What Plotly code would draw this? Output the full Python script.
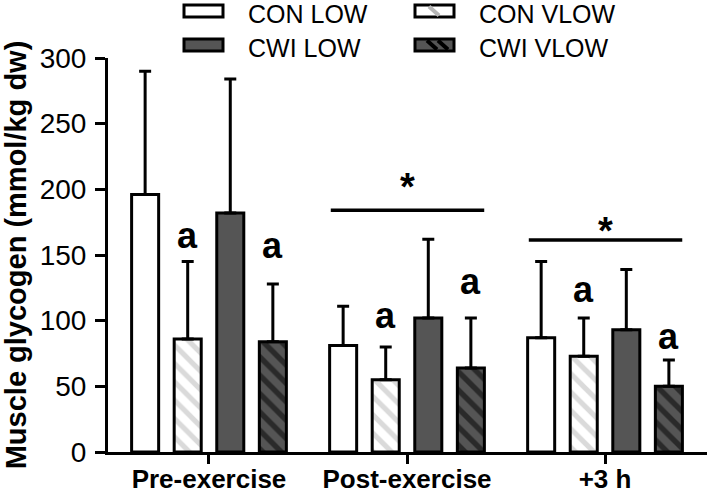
import plotly.graph_objects as go

# ---------------- data ----------------
categories = ["Pre-exercise", "Post-exercise", "+3 h"]
series_names = ["CON LOW", "CON VLOW", "CWI LOW", "CWI VLOW"]

con_low = [196, 81, 87]
con_low_sd = [94, 30, 58]
con_vlow = [86, 55, 73]
con_vlow_sd = [59, 25, 29]
cwi_low = [182, 102, 93]
cwi_low_sd = [102, 60, 46]
cwi_vlow = [84, 64, 50]
cwi_vlow_sd = [44, 38, 20]

# "a" markers: (category index, series index, y of label)
a_marks = [(0, 1, 165), (0, 3, 157), (1, 1, 104), (1, 3, 130), (2, 1, 124), (2, 3, 88)]
# significance bars: (category index, line y, star y)
sig_bars = [(1, 184, 202), (2, 161.5, 168)]

y_ticks = [0, 50, 100, 150, 200, 250, 300]

# ---------------- style ----------------
FONT = "Liberation Sans, Arial, sans-serif"
BARGAP = 0.14
BARGROUPGAP = 0.365
DARK = "#555555"
LIGHT = "#b5b5b5"

styles = [
    dict(color="white", pattern=None),
    dict(color="white", pattern=dict(shape="\\", fgcolor=LIGHT, bgcolor="white", size=13, solidity=0.4)),
    dict(color=DARK, pattern=None),
    dict(color=DARK, pattern=dict(shape="\\", fgcolor="black", bgcolor=DARK, size=13, solidity=0.42)),
]

values = [con_low, con_vlow, cwi_low, cwi_vlow]
errors = [con_low_sd, con_vlow_sd, cwi_low_sd, cwi_vlow_sd]

fig = go.Figure()
for name, v, e, st in zip(series_names, values, errors, styles):
    marker = dict(color=st["color"], line=dict(color="black", width=3))
    if st["pattern"] is not None:
        marker["pattern"] = st["pattern"]
    fig.add_trace(go.Bar(
        name=name, x=categories, y=v, marker=marker, showlegend=False,
        error_y=dict(type="data", symmetric=False, array=e, arrayminus=[0] * len(e),
                     color="black", thickness=3, width=6),
    ))

slot = (1 - BARGAP) / len(series_names)
def bar_x(ci, si):
    return ci + (si - (len(series_names) - 1) / 2) * slot

annotations = []
shapes = []
for ci, si, yy in a_marks:
    annotations.append(dict(x=bar_x(ci, si), y=yy, xref="x", yref="y", text="<b>a</b>",
                            showarrow=False, font=dict(family=FONT, size=36, color="black"),
                            xanchor="center", yanchor="middle"))
for ci, ly, sy in sig_bars:
    shapes.append(dict(type="line", xref="x", yref="y", x0=ci - 0.385, x1=ci + 0.39,
                       y0=ly, y1=ly, line=dict(color="black", width=3.5)))
    annotations.append(dict(x=ci, y=sy, xref="x", yref="y", text="<b>*</b>", showarrow=False,
                            font=dict(family=FONT, size=38, color="black"),
                            xanchor="center", yanchor="middle"))

# ---------------- custom legend (pixel layout -> paper) ----------------
L, R, T, B = 108, 2, 58, 42
W, H = 709, 494
PW, PH = W - L - R, H - T - B
def px(xp):
    return (xp - L) / PW
def py(yp):
    return (H - B - yp) / PH

leg_items = [
    (184, 5, "white", None),
    (415, 5, "white", LIGHT),
    (184, 39, DARK, None),
    (415, 39, DARK, "black"),
]
for (x0, y0, fill, stripe), name in zip(leg_items, series_names):
    bw, bh = 39, 12
    shapes.append(dict(type="rect", xref="paper", yref="paper",
                       x0=px(x0), x1=px(x0 + bw), y0=py(y0), y1=py(y0 + bh),
                       fillcolor=fill, line=dict(color="black", width=3), layer="above"))
    if stripe is not None:
        offs = [14] if stripe == LIGHT else [12, 23]
        for o in offs:
            shapes.append(dict(type="line", xref="paper", yref="paper",
                               x0=px(x0 + o), x1=px(x0 + o + 10),
                               y0=py(y0 + 1.5), y1=py(y0 + bh - 1.5),
                               line=dict(color=stripe, width=4), layer="above"))
    annotations.append(dict(x=px(x0 + 63), y=py(y0 + bh / 2 + 3), xref="paper", yref="paper",
                            text=name, showarrow=False, xanchor="left", yanchor="middle",
                            borderpad=0, font=dict(family=FONT, size=25, color="black")))

fig.update_layout(
    width=W, height=H,
    margin=dict(l=L, r=R, t=T, b=B, pad=0, autoexpand=False),
    paper_bgcolor="white", plot_bgcolor="white",
    barmode="group", bargap=BARGAP, bargroupgap=BARGROUPGAP,
    font=dict(family=FONT, color="black"),
    annotations=annotations, shapes=shapes,
    xaxis=dict(type="category", range=[-0.51, 2.515], showline=True, linecolor="black",
               linewidth=3, ticks="outside", ticklen=9, tickwidth=3, tickcolor="black",
               showgrid=False, automargin=False, ticklabelstandoff=-7,
               tickfont=dict(family=FONT, size=26, weight="bold")),
    yaxis=dict(range=[0, 300], tickvals=y_ticks, showline=True, linecolor="black", linewidth=3,
               ticks="outside", ticklen=10, tickwidth=3, tickcolor="black", showgrid=False,
               zeroline=False, automargin=False, ticklabelstandoff=3,
               tickfont=dict(family=FONT, size=28),
               title=dict(text="Muscle glycogen (mmol/kg dw)", standoff=9,
                          font=dict(family=FONT, size=29, weight="bold"))),
)

fig.write_html("out.html", config={"displayModeBar": False},
               post_script="document.body.style.margin='0px';")
